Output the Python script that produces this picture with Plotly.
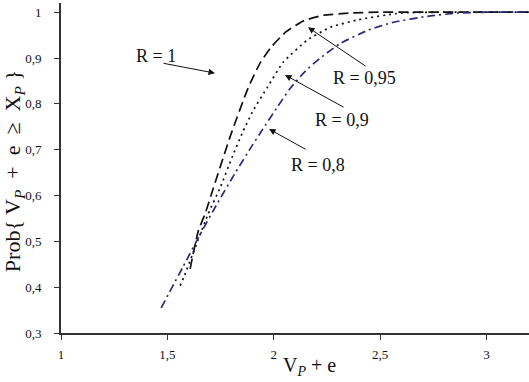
import plotly.graph_objects as go

# R = 1 (long dashed, black)
x_r1 = [1.607, 1.645, 1.678, 1.716, 1.80, 1.88, 1.937, 1.99, 2.06, 2.14, 2.23, 2.36, 2.5, 2.75, 3.0, 3.2]
y_r1 = [0.440, 0.522, 0.561, 0.616, 0.735, 0.835, 0.890, 0.925, 0.958, 0.981, 0.993, 0.998, 1.0, 1.0, 1.0, 1.0]

# R = 0.9 (dotted, black)
x_r09 = [1.560, 1.580, 1.692, 1.749, 1.805, 1.852, 1.904, 1.970, 2.045, 2.158, 2.266, 2.394, 2.596, 2.8, 3.0, 3.2]
y_r09 = [0.403, 0.425, 0.560, 0.618, 0.684, 0.736, 0.786, 0.836, 0.891, 0.939, 0.967, 0.983, 0.998, 1.0, 1.0, 1.0]

# R = 0.8 (dash-dot, navy)
x_r08 = [1.471, 1.574, 1.654, 1.734, 1.82, 1.90, 1.946, 2.017, 2.078, 2.15, 2.219, 2.314, 2.445, 2.563, 2.723, 2.864, 3.006, 3.2]
y_r08 = [0.355, 0.445, 0.515, 0.582, 0.650, 0.710, 0.743, 0.793, 0.834, 0.872, 0.900, 0.932, 0.961, 0.978, 0.991, 0.998, 1.0, 1.0]

x_ticks = [1, 1.5, 2, 2.5, 3]
y_ticks = [0.3, 0.4, 0.5, 0.6, 0.7, 0.8, 0.9, 1.0]

labels = ["R = 1", "R = 0,95", "R = 0,9", "R = 0,8"]

SERIF = "Liberation Serif, Times New Roman, serif"

fig = go.Figure()
fig.add_trace(go.Scatter(x=x_r1, y=y_r1, mode="lines", line=dict(color="#111111", width=1.7, dash="10px,5px", shape="spline", smoothing=0.5), showlegend=False))
fig.add_trace(go.Scatter(x=x_r09, y=y_r09, mode="lines", line=dict(color="#111111", width=1.7, dash="2px,4px", shape="spline", smoothing=0.5), showlegend=False))
fig.add_trace(go.Scatter(x=x_r08, y=y_r08, mode="lines", line=dict(color="#2a2a7c", width=1.7, dash="8px,4px,2px,4px", shape="spline", smoothing=0.5), showlegend=False))

annotations = []
# text labels
text_pos = [(1.447, 0.904), (2.429, 0.856), (2.321, 0.764), (2.208, 0.666)]
for (tx, ty), t in zip(text_pos, labels):
    annotations.append(dict(x=tx, y=ty, xref="x", yref="y", text=t, showarrow=False,
                            font=dict(family=SERIF, size=18, color="#111111")))
# arrows (head, tail)
arrows = [((1.724, 0.867), (1.475, 0.889)),
          ((2.161, 0.967), (2.439, 0.880)),
          ((2.053, 0.863), (2.335, 0.791)),
          ((1.978, 0.745), (2.157, 0.699))]
for (hx, hy), (tx, ty) in arrows:
    annotations.append(dict(x=hx, y=hy, ax=tx, ay=ty, xref="x", yref="y", axref="x", ayref="y",
                            text="", showarrow=True, arrowhead=2, arrowsize=1.3, arrowwidth=1,
                            arrowcolor="#111111", standoff=0, startstandoff=0))
# axis titles
annotations.append(dict(x=0.532, y=-0.1, xref="paper", yref="paper", yanchor="middle",
                        text="V<sub><i>P</i></sub> + e", showarrow=False,
                        font=dict(family=SERIF, size=20, color="#111111")))
annotations.append(dict(x=-0.1, y=0.491, xref="paper", yref="paper", xanchor="center", yanchor="middle",
                        textangle=-90,
                        text="Prob{ V<sub><i>P</i></sub>&nbsp; +&nbsp; e&nbsp; ≥&nbsp; X<sub><i>P</i></sub> }",
                        showarrow=False, font=dict(family=SERIF, size=22, color="#111111")))

fig.update_layout(
    width=529, height=382,
    margin=dict(l=61, r=0, t=3, b=49),
    paper_bgcolor="white", plot_bgcolor="white",
    separators=", ",
    annotations=annotations,
    font=dict(family=SERIF, size=13, color="#111111"),
)
fig.update_xaxes(range=[1, 3.2], tickvals=x_ticks, showgrid=False, zeroline=False,
                 showline=True, linecolor="#333333", linewidth=2,
                 ticks="outside", ticklen=5, tickcolor="#333333", tickwidth=1,
                 ticklabelstandoff=3, tickfont=dict(family=SERIF, size=13))
fig.update_yaxes(range=[0.3, 1.02], tickvals=y_ticks, showgrid=False, zeroline=False,
                 showline=True, linecolor="#333333", linewidth=2,
                 ticks="outside", ticklen=5, tickcolor="#333333", tickwidth=1,
                 ticklabelstandoff=10, tickfont=dict(family=SERIF, size=13))

fig.write_html("out.html", config={"displayModeBar": False},
               post_script="document.body.style.margin='0';")
